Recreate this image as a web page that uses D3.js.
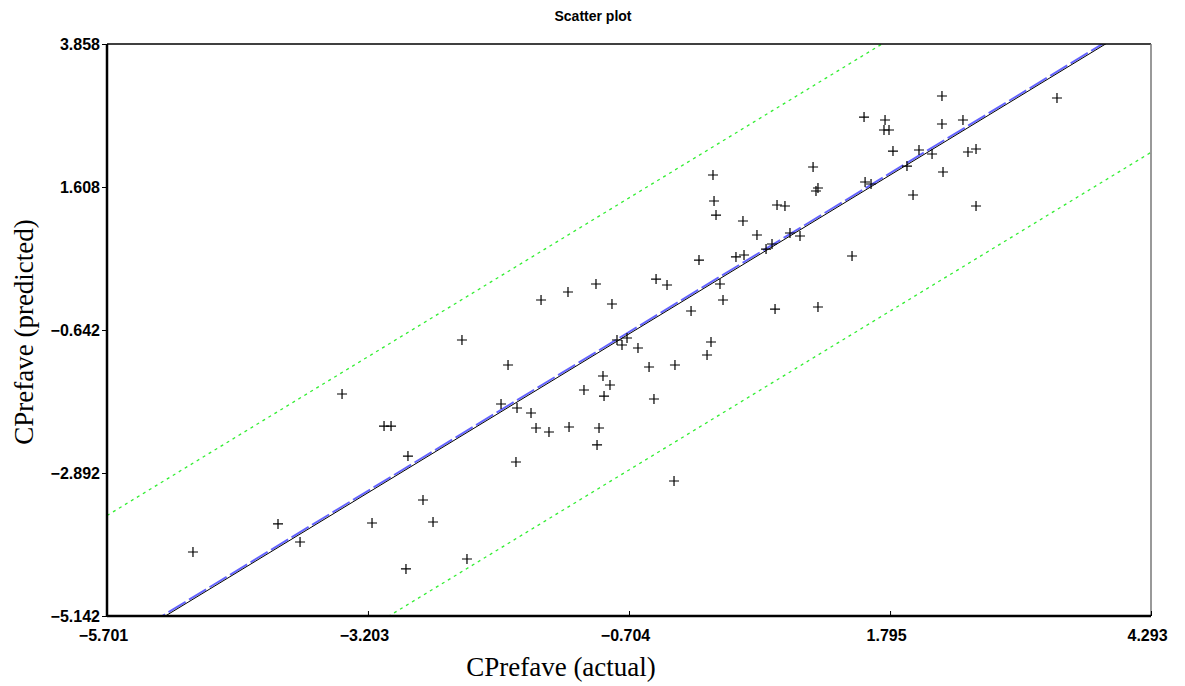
<!DOCTYPE html>
<html>
<head>
<meta charset="utf-8">
<script src="https://cdn.jsdelivr.net/npm/d3@7"></script>
<style>
  body { margin: 0; background: #fff; }
  .tick-label { font-family: Arial, "Liberation Sans", sans-serif; font-weight: bold; font-size: 16px; }
  .axisText { font-family: "Times New Roman", "Liberation Serif", serif; font-size: 27px; }
</style>
</head>
<body>
<div id="scatter"></div>
<script>
// set parameters/spacing
var svgWidth = 1185;
var svgHeight = 686;

var margin = { top: 44, right: 34, bottom: 70, left: 107 };

var width = svgWidth - margin.left - margin.right;
var height = svgHeight - margin.top - margin.bottom;

// data
var xDomain = [-5.701, 4.293];
var yDomain = [-5.142, 3.858];
var xTicks = [-5.701, -3.203, -0.704, 1.795, 4.293];
var yTicks = [-5.142, -2.892, -0.642, 1.608, 3.858];

var actual = [-4.878, -4.064, -3.853, -3.451, -3.164, -3.049, -2.982, -2.839, -2.820, -2.676,
  -2.580, -2.303, -2.255, -1.929, -1.862, -1.786, -1.776, -1.642, -1.594, -1.546,
  -1.470, -1.288, -1.278, -1.135, -1.020, -0.991, -1.010, -0.953, -0.943, -0.886,
  -0.867, -0.819, -0.771, -0.723, -0.618, -0.512, -0.465, -0.445, -0.340, -0.273,
  -0.264, -0.110, -0.034, 0.043, 0.081, 0.100, 0.110, 0.129, 0.167, 0.196,
  0.320, 0.387, 0.397, 0.521, 0.608, 0.665, 0.694, 0.713, 0.789, 0.837,
  0.933, 1.058, 1.105, 1.086, 1.105, 1.431, 1.546, 1.556, 1.613, 1.747,
  1.737, 1.785, 1.823, 1.957, 2.015, 2.072, 2.197, 2.292, 2.292, 2.302,
  2.493, 2.541, 2.618, 2.618, 3.393];

var predicted = [-4.135, -3.694, -3.978, -1.649, -3.679, -2.153, -2.153, -4.402, -2.625, -3.317,
  -3.663, -0.799, -4.245, -1.806, -1.193, -2.719, -1.869, -1.948, -2.184, -0.170,
  -2.247, -0.044, -2.168, -1.586, 0.082, -2.184, -2.451, -1.366, -1.681, -1.507,
  -0.233, -0.799, -0.878, -0.768, -0.925, -1.224, -1.728, 0.160, 0.066, -3.018,
  -1.193, -0.343, 0.459, -1.035, -0.831, 1.797, 1.388, 1.167, 0.082, -0.170,
  0.507, 1.073, 0.538, 0.853, 0.632, 0.711, -0.312, 1.325, 1.309, 0.884,
  0.837, 1.923, 1.592, 1.545, -0.280, 0.522, 2.709, 1.687, 1.655, 2.662,
  2.505, 2.505, 2.174, 1.938, 1.482, 2.190, 2.127, 3.040, 2.599, 1.844,
  2.662, 2.159, 1.309, 2.206, 3.008];

// append the svg to the html page
var svg = d3.select("#scatter")
  .append("svg")
  .attr("width", svgWidth)
  .attr("height", svgHeight);

var chart = svg.append("g")
  .attr("transform", `translate(${margin.left}, ${margin.top})`);

// create scale functions
var xLinearScale = d3.scaleLinear().domain(xDomain).range([0, width]);
var yLinearScale = d3.scaleLinear().domain(yDomain).range([height, 0]);

// clip for the reference lines
svg.append("defs").append("clipPath")
  .attr("id", "plotClip")
  .append("rect")
  .attr("width", width)
  .attr("height", height);

var lines = chart.append("g").attr("clip-path", "url(#plotClip)");

function drawLine(slope, intercept) {
  return d3.line()
    .x(d => xLinearScale(d))
    .y(d => yLinearScale(slope * d + intercept))(xDomain);
}

// prediction band (green dotted)
[2.14, -2.14].forEach(function(off) {
  lines.append("path")
    .attr("d", drawLine(1, off))
    .attr("fill", "none")
    .attr("stroke", "#33ee33")
    .attr("stroke-width", 1.3)
    .attr("stroke-dasharray", "3,4");
});

// fit line (blue dashed) and ideal line (black)
lines.append("path")
  .attr("d", drawLine(1, 0.03))
  .attr("fill", "none")
  .attr("stroke", "#6464ff")
  .attr("stroke-width", 2)
  .attr("stroke-dasharray", "20,4");

lines.append("path")
  .attr("d", drawLine(1, 0))
  .attr("fill", "none")
  .attr("stroke", "#000")
  .attr("stroke-width", 1);

// markers
var pts = actual.map((a, i) => ({ x: a, y: predicted[i] }));
chart.selectAll(".pt")
  .data(pts)
  .enter()
  .append("path")
  .attr("class", "pt")
  .attr("d", d => `M${xLinearScale(d.x) - 5},${yLinearScale(d.y)}h10M${xLinearScale(d.x)},${yLinearScale(d.y) - 5}v10`)
  .attr("stroke", "#000")
  .attr("stroke-width", 1.2)
  .attr("fill", "none");

// frame
chart.append("line").attr("x1", 0).attr("x2", width).attr("y1", 0).attr("y2", 0)
  .attr("stroke", "#000").attr("stroke-width", 1.5);
chart.append("line").attr("x1", width).attr("x2", width).attr("y1", 0).attr("y2", height)
  .attr("stroke", "#777").attr("stroke-width", 1.5);

// axes
var bottomAxis = d3.axisBottom(xLinearScale).tickValues(xTicks).tickSize(5).tickFormat(d3.format(".3f"));
var leftAxis = d3.axisLeft(yLinearScale).tickValues(yTicks).tickSize(5).tickFormat(d3.format(".3f"));

var xg = chart.append("g")
  .attr("transform", `translate(0, ${height})`)
  .call(bottomAxis);
xg.select(".domain").attr("stroke-width", 2.5).attr("d", `M0,0H${width}`);
xg.selectAll(".tick line").attr("y2", -5);
xg.selectAll(".tick text").attr("class", "tick-label").attr("y", 25).attr("dy", 0).attr("dx", -4)
  .attr("font-family", null).attr("font-size", null);

var yg = chart.append("g").call(leftAxis);
yg.select(".domain").attr("stroke-width", 2.5).attr("d", `M0,0V${height}`);
yg.selectAll(".tick text").attr("class", "tick-label").attr("x", -7).attr("dy", "0.36em")
  .attr("font-family", null).attr("font-size", null);

// title
svg.append("text")
  .attr("x", 593)
  .attr("y", 21)
  .attr("text-anchor", "middle")
  .attr("font-family", "Arial, 'Liberation Sans', sans-serif")
  .attr("font-weight", "bold")
  .attr("font-size", 14)
  .text("Scatter plot");

// Create axes labels
svg.append("text")
  .attr("transform", "translate(33, 332) rotate(-90)")
  .attr("text-anchor", "middle")
  .attr("class", "axisText")
  .text("CPrefave (predicted)");

svg.append("text")
  .attr("x", 561)
  .attr("y", 676)
  .attr("text-anchor", "middle")
  .attr("class", "axisText")
  .text("CPrefave (actual)");
</script>
</body>
</html>
